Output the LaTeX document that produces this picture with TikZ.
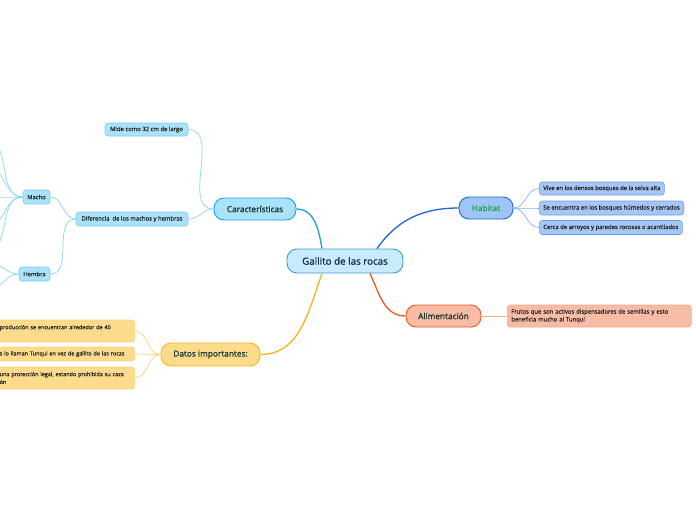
\documentclass[tikz,border=0pt]{standalone}
\usepackage{fontspec}
\setmainfont{Open Sans}
\newfontfamily\mainfnt[FakeBold=1.2]{Open Sans}
\newfontfamily\leaffnt[FakeBold=0.4]{Open Sans}
\definecolor{cenfill}{HTML}{C9ECFC}
\definecolor{cenline}{HTML}{3D9AD6}
\definecolor{centext}{HTML}{1B2C4F}
\definecolor{carfill}{HTML}{A9E2FA}
\definecolor{carline}{HTML}{1BA1E2}
\definecolor{carleaf}{HTML}{7FCDEF}
\definecolor{carconn}{HTML}{8FD4F2}
\definecolor{habfill}{HTML}{9FC5F8}
\definecolor{habline}{HTML}{1E66D6}
\definecolor{habtext}{HTML}{1FA24A}
\definecolor{hableaf}{HTML}{A6C7F6}
\definecolor{hableafline}{HTML}{6B9DE6}
\definecolor{habconn}{HTML}{8AB3EE}
\definecolor{alifill}{HTML}{F8BBA6}
\definecolor{aliline}{HTML}{EE5A24}
\definecolor{alileafline}{HTML}{F6A88F}
\definecolor{datfill}{HTML}{FDDB8C}
\definecolor{datline}{HTML}{F9B418}
\definecolor{datleafline}{HTML}{FBD27A}
\definecolor{darktext}{HTML}{1C3A2C}
\definecolor{leaftext}{HTML}{222222}
\begin{document}
\begin{tikzpicture}[x=1pt,y=1pt,
  mainnode/.style={draw, rounded corners=10pt, line width=0.9pt, inner sep=0pt, align=center},
  leafnode/.style={draw, rounded corners=3pt, line width=0.6pt, inner xsep=4pt, inner ysep=0pt,
     font=\leaffnt\fontsize{5.9}{7.8}\selectfont, text=leaftext, align=left},
  datleaf/.style={leafnode, fill=datfill, draw=datleafline, text width=131pt, anchor=east,
     font=\leaffnt\fontsize{5.5}{7.8}\selectfont},
  mainconn/.style={line width=1.3pt},
  subconn/.style={line width=0.7pt}]
\useasboundingbox (0,0) rectangle (696,-520);
\fill[white] (0,0) rectangle (696,-520);

% root
\node[mainnode, fill=cenfill, draw=cenline, minimum width=116pt, minimum height=24pt,
  font=\mainfnt\fontsize{9.8}{11}\selectfont, text=centext] (root) at (345,-261) {Gallito de las rocas};

% Caracteristicas
\node[mainnode, fill=carfill, draw=carline, minimum width=82pt, minimum height=22pt,
  font=\mainfnt\fontsize{8.3}{9}\selectfont, text=darktext] (car) at (255,-209) {Características};
\node[leafnode, fill=carfill, draw=carleaf, minimum width=83pt, minimum height=13pt, align=center] (mide) at (146.5,-129.5) {Mide como 32 cm de largo};
\node[leafnode, fill=carfill, draw=carleaf, minimum width=112pt, minimum height=14pt, align=center] (dif) at (132,-219) {Diferencia\ \ de los machos y hembras};
\node[leafnode, fill=carfill, draw=carleaf, minimum width=27pt, minimum height=14pt, align=center] (macho) at (36.5,-197) {Macho};
\node[leafnode, fill=carfill, draw=carleaf, minimum width=31pt, minimum height=14pt, align=center] (hembra) at (34.5,-274) {Hembra};
\coordinate (m1) at (-14,-140);
\coordinate (m2) at (-14,-166);
\coordinate (m3) at (-14,-197);
\coordinate (m4) at (-14,-228);
\coordinate (m5) at (-14,-252);
\coordinate (h1) at (-12,-262);
\coordinate (h2) at (-12,-290);

% Habitat
\node[mainnode, fill=habfill, draw=habline, minimum width=54pt, minimum height=22pt,
  font=\mainfnt\fontsize{8.3}{9}\selectfont, text=habtext] (hab) at (486,-208) {Habitat};
\node[leafnode, fill=hableaf, draw=hableafline, minimum height=13pt, anchor=west] (hab1) at (539,-188.5) {Vive en los densos bosques de la selva alta};
\node[leafnode, fill=hableaf, draw=hableafline, minimum height=14pt, anchor=west] (hab2) at (539,-208) {Se encuentra en los bosques húmedos y cerrados};
\node[leafnode, fill=hableaf, draw=hableafline, minimum height=14pt, anchor=west] (hab3) at (539,-227.5) {Cerca de arroyos y paredes rocosas o acantilados};

% Alimentacion
\node[mainnode, fill=alifill, draw=aliline, minimum width=75pt, minimum height=22pt,
  font=\mainfnt\fontsize{8.3}{9}\selectfont, text=darktext] (ali) at (443.5,-316) {Alimentación};
\node[leafnode, fill=alifill, draw=alileafline, minimum height=22pt, text width=176pt, anchor=west] (ali1) at (507,-316) {Frutos que son activos dispensadores de semillas y esto\\beneficia mucho al Tunqui};

% Datos importantes
\node[mainnode, fill=datfill, draw=datline, minimum width=99pt, minimum height=23pt,
  font=\mainfnt\fontsize{8.3}{9}\selectfont, text=darktext] (dat) at (210.5,-354.5) {Datos importantes:};
\node[datleaf, minimum height=22pt] (dat1) at (135,-331) {\mbox{producción se encuentran alrededor de 40}\\\phantom{x}};
\node[datleaf, minimum height=14pt] (dat2) at (135,-354) {\mbox{s lo llaman Tunqui en vez de gallito de las rocas}};
\node[datleaf, minimum height=22pt] (dat3) at (135,-378) {\mbox{una protección legal, estando prohibida su caza}\\ón};

% main connectors
\draw[mainconn, carline] ([xshift=-23pt]root.north) to[out=100,in=0] (car.east);
\draw[mainconn, habline] ([xshift=32pt]root.north) to[out=55,in=180] (hab.west);
\draw[mainconn, aliline] ([xshift=25pt]root.south) to[out=-65,in=180] (ali.west);
\draw[mainconn, datline] ([xshift=-23pt]root.south) to[out=-110,in=0] (dat.east);

% sub connectors
\draw[subconn, carconn] (car.west) to[out=180,in=0] (mide.east);
\draw[subconn, carconn] (car.west) to[out=180,in=0] (dif.east);
\draw[subconn, carconn] (dif.west) to[out=180,in=0] (macho.east);
\draw[subconn, carconn] (dif.west) to[out=180,in=0] (hembra.east);
\foreach \t in {m1,m2,m3,m4,m5}
  \draw[subconn, carconn] (macho.west) to[out=180,in=0] (\t);
\foreach \t in {h1,h2}
  \draw[subconn, carconn] (hembra.west) to[out=180,in=0] (\t);
\foreach \t in {hab1,hab2,hab3}
  \draw[subconn, habconn] (hab.east) to[out=0,in=180] (\t.west);
\draw[subconn, alileafline] (ali.east) -- (ali1.west);
\foreach \t in {dat1,dat2,dat3}
  \draw[subconn, datleafline] (dat.west) to[out=180,in=0] (\t.east);
\end{tikzpicture}
\end{document}
